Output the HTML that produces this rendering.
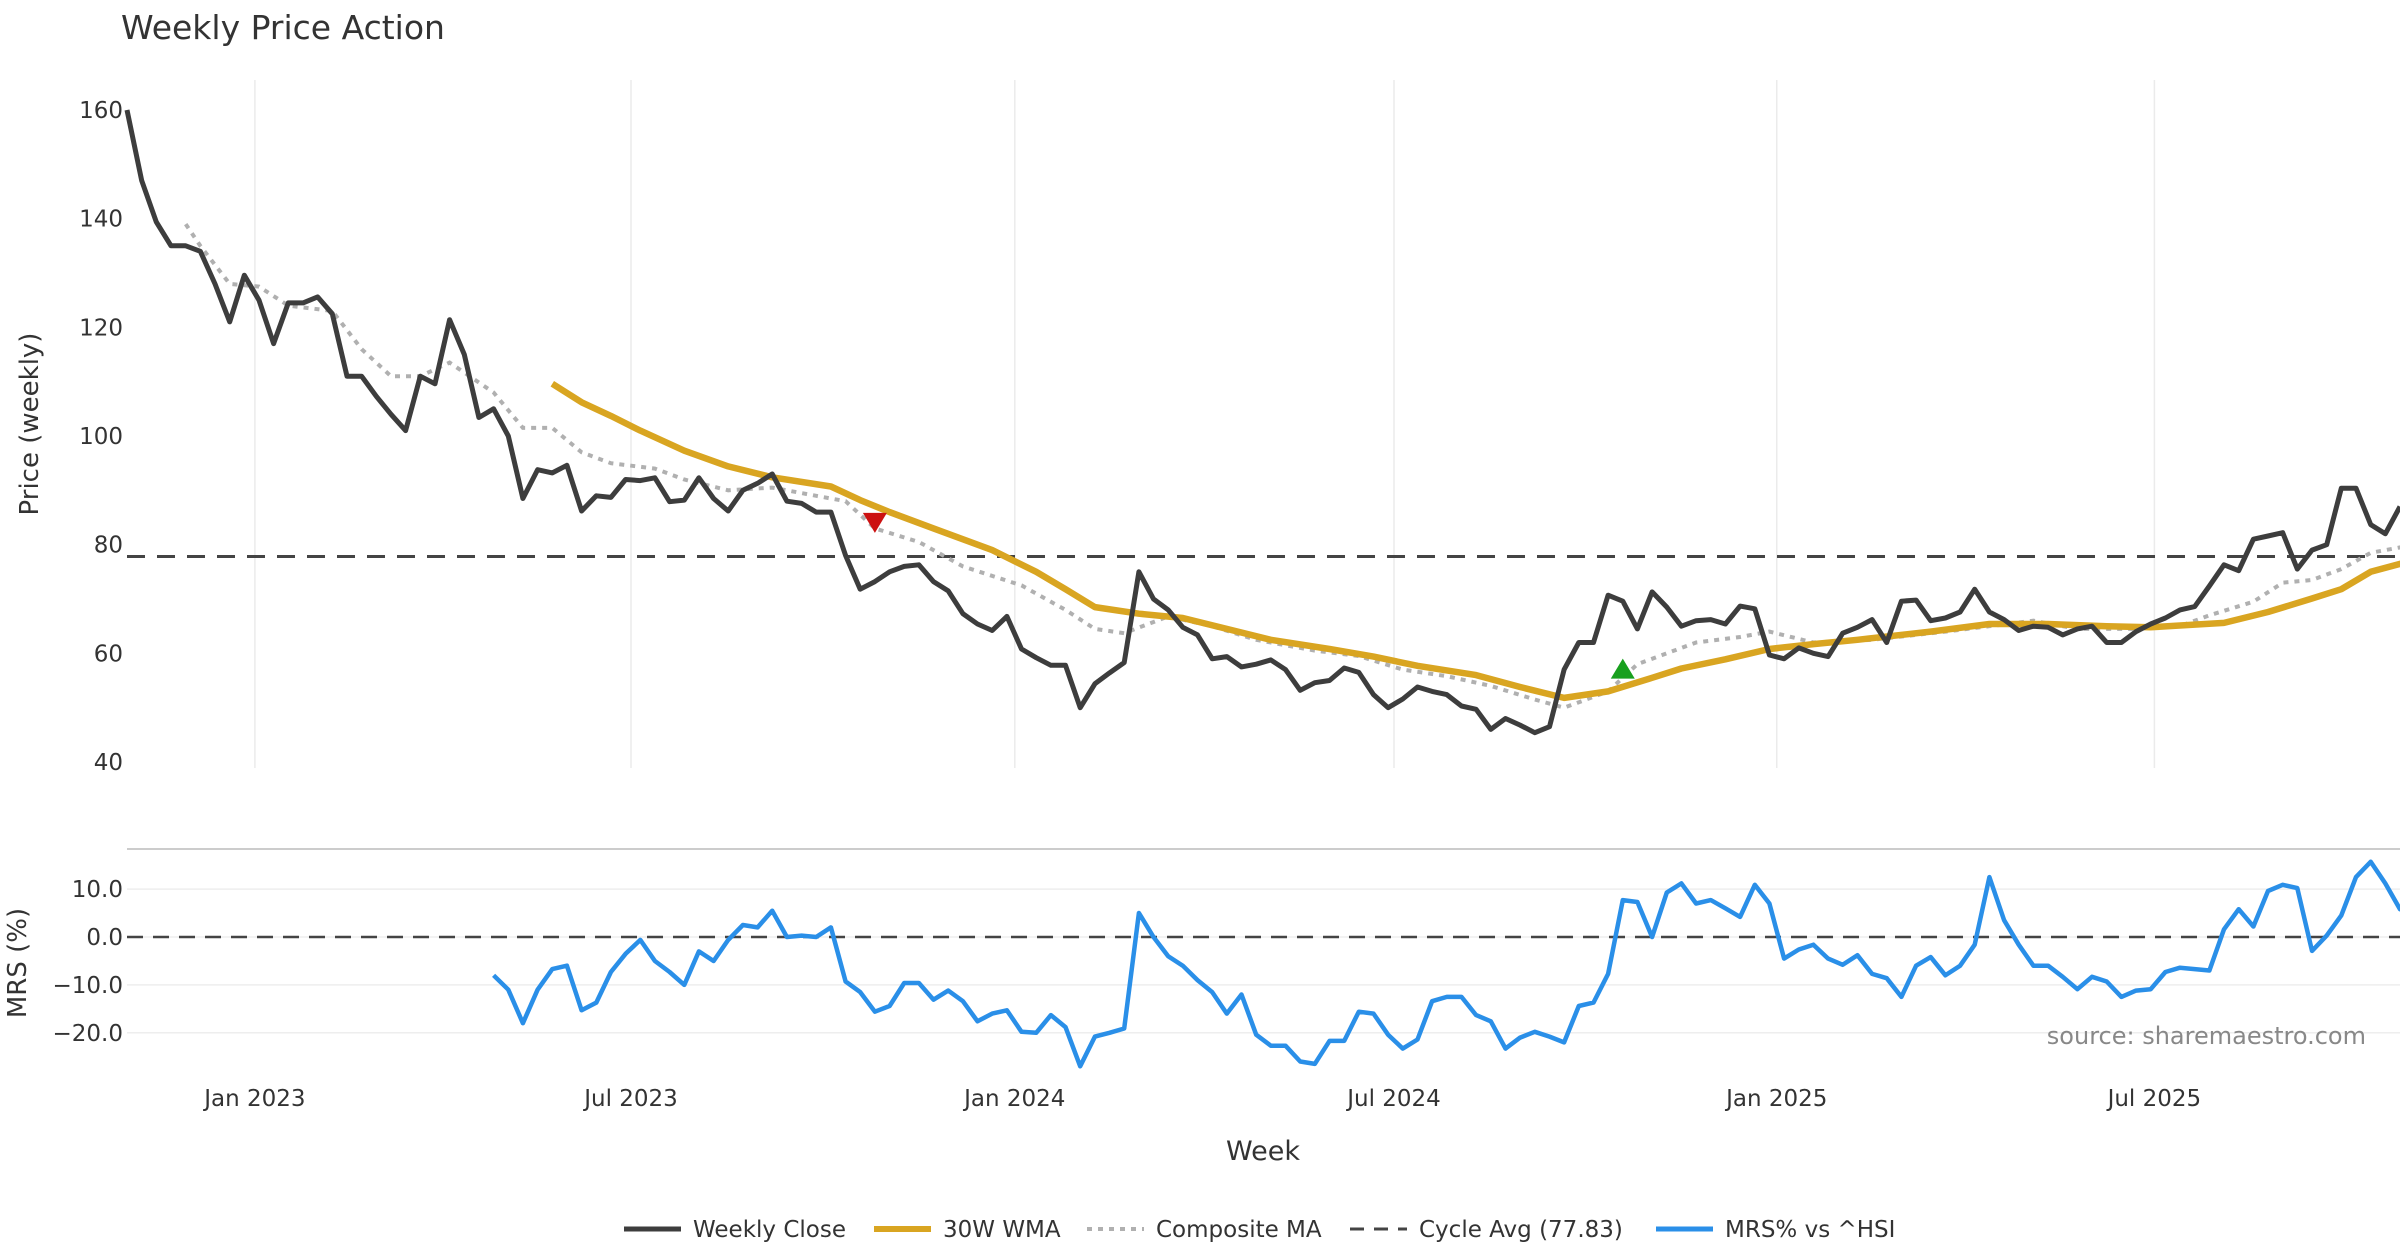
<!DOCTYPE html>
<html><head><meta charset="utf-8">
<style>
html,body{margin:0;padding:0;background:#fff;}
svg{display:block;font-family:"DejaVu Sans","Liberation Sans",sans-serif;}
</style></head>
<body>
<svg id="chart" width="2400" height="1260" viewBox="0 0 2400 1260" xmlns="http://www.w3.org/2000/svg">
<text x="121" y="39" font-size="33" fill="#333">Weekly Price Action</text>
<text transform="translate(38,424) rotate(-90)" text-anchor="middle" font-size="26" fill="#333">Price (weekly)</text>
<text transform="translate(26,963) rotate(-90)" text-anchor="middle" font-size="26" fill="#333">MRS (%)</text>
<text x="1263" y="1160" text-anchor="middle" font-size="27" fill="#333">Week</text>
<line x1="127" x2="2400" y1="849" y2="849" stroke="#ccc" stroke-width="2"/>
<g id="grid"></g><g id="series"></g><g id="axes"></g>
<text x="2366" y="1044" text-anchor="end" font-size="24" fill="#888">source: sharemaestro.com</text>
<g id="legend"></g>
</svg>
<script>
const closeVals=[160,147,139.4,135,135,134,128,121,129.6,125,117,124.5,124.5,125.6,122.5,111,111,107.3,104,101,111,109.6,121.4,115,103.4,105,100,88.5,93.8,93.2,94.6,86.2,89,88.7,92,91.8,92.3,87.9,88.2,92.3,88.5,86.2,90,91.3,93,88,87.6,86,86,78,71.8,73.2,75,76,76.3,73.2,71.5,67.3,65.4,64.2,66.8,60.8,59.2,57.8,57.8,50,54.4,56.4,58.3,75,70,68,64.8,63.4,59,59.4,57.5,58,58.8,57,53.2,54.6,55,57.3,56.5,52.4,50,51.6,53.8,53,52.4,50.3,49.7,46,48,46.8,45.4,46.5,57,62,62,70.7,69.6,64.5,71.3,68.5,65,66,66.2,65.4,68.7,68.2,59.7,59,61,60,59.4,63.7,64.8,66.2,62,69.6,69.8,66,66.5,67.6,71.8,67.6,66.2,64.2,65,64.8,63.4,64.5,65,62,62,64,65.4,66.5,68,68.6,72.4,76.3,75.2,81,81.6,82.2,75.5,79,80,90.4,90.4,83.7,82,87];
const wmaWeeks=[29,31,33,35,38,41,44,48,50,52,55,59,62,64,66,69,72,75,78,82,85,88,92,95,98,101,104,106,109,112,115,118,123,127,131,135,138,143,146,149,151,153,156];
const wmaVals=[109.6,106.2,103.7,101,97.3,94.4,92.4,90.7,88.2,86,83,79,75,71.8,68.5,67.3,66.5,64.5,62.5,60.8,59.4,57.7,56,53.8,51.8,53,55.5,57.2,58.9,60.8,61.7,62.5,64,65.4,65.4,65,64.8,65.6,67.6,70.1,71.8,75,77.2];
const compWeeks=[4,5,7,9,11,14,16,18,20,22,25,27,29,31,33,36,38,41,44,47,49,51,54,57,61,64,66,68,71,74,77,81,84,87,90,93,96,98,101,103,105,107,110,112,115,119,124,127,130,133,137,140,142,145,147,149,151,153,156];
const compVals=[139,135,128,127.5,124,123,116,111,111,113.5,108,101.5,101.5,97,95,94,92,90,90.5,89,88,83,80.5,76,72.5,68,64.5,63.7,66.8,65,62.5,60.5,59.5,57,55.8,54,51.5,50,53,58,60,62,63,64,62,62.5,64,65,66,64.5,64.5,65,67,69.5,73,73.5,75.5,78.5,80];
const mrsStart=25;
const mrsVals=[-8,-11,-18,-11,-6.7,-6,-15.3,-13.7,-7.3,-3.5,-0.6,-5,-7.3,-10,-3,-5,-0.6,2.5,2,5.5,0,0.3,0,2,-9.3,-11.5,-15.6,-14.4,-9.6,-9.6,-13.1,-11.2,-13.4,-17.6,-16,-15.3,-19.8,-20,-16.3,-18.8,-27,-20.8,-20,-19.1,5,0,-4,-6,-9,-11.5,-16,-12,-20.4,-22.7,-22.7,-26,-26.5,-21.7,-21.7,-15.6,-16,-20.4,-23.3,-21.4,-13.4,-12.5,-12.5,-16.3,-17.6,-23.3,-21,-19.8,-20.8,-22,-14.4,-13.7,-7.7,7.7,7.3,0,9.3,11.2,7,7.7,6,4.2,10.9,7,-4.5,-2.6,-1.6,-4.5,-5.8,-3.8,-7.7,-8.6,-12.5,-6,-4.2,-8,-6,-1.6,12.5,3.5,-1.6,-6,-6,-8.3,-10.9,-8.3,-9.3,-12.5,-11.2,-10.9,-7.3,-6.4,-6.7,-7,1.6,5.8,2.2,9.6,10.9,10.2,-2.9,0.3,4.5,12.5,15.7,11.2,5.8,10.2];
const cycleAvg=77.83;
const sellSignal=[51,84.2];
const buySignal=[102,57];
const priceTicks=[40,60,80,100,120,140,160];
const mrsTicks=[10,0,-10,-20];
const dateTickWeeks=[8.72,34.37,60.54,86.4,112.5,138.25];
const dateTickLabels=["Jan 2023","Jul 2023","Jan 2024","Jul 2024","Jan 2025","Jul 2025"];

const NS="http://www.w3.org/2000/svg";
const X0=127,X1=2400,N=closeVals.length;
const xS=w=>X0+w*(X1-X0)/(N-1);
const yP=v=>110+(160-v)*(762-110)/120;
const yM=v=>937-v*4.79;
function mk(tag,attrs,parent){const e=document.createElementNS(NS,tag);for(const k in attrs)e.setAttribute(k,attrs[k]);document.getElementById(parent).appendChild(e);return e;}
function pts(ws,vs,yf){return ws.map((w,i)=>xS(w).toFixed(1)+","+yf(vs[i]).toFixed(1)).join(" ");}

dateTickWeeks.forEach((w,i)=>{
  const g=mk('line',{x1:xS(w),x2:xS(w),y1:80,y2:768,stroke:'#ebebeb','stroke-width':1.5},'grid');
  
  
  const t=mk('text',{x:xS(w),y:1106,'text-anchor':'middle','font-size':23,fill:'#333'},'axes');
  t.textContent=dateTickLabels[i];
  
  
});
priceTicks.forEach(v=>{
  const t=mk('text',{x:123,y:yP(v)+8,'text-anchor':'end','font-size':23,fill:'#333'},'axes');
  t.textContent=v;
  
  
});
mrsTicks.forEach(v=>{
  const g=mk('line',{x1:X0,x2:X1,y1:yM(v),y2:yM(v),stroke:'#eeeeee','stroke-width':1.5},'grid');
  
  
  const t=mk('text',{x:123,y:yM(v)+8,'text-anchor':'end','font-size':23,fill:'#333'},'axes');
  t.textContent=(v<0?"\u2212"+(-v).toFixed(1):v.toFixed(1));
  
  
});

let e;
e=mk('line',{x1:X0,x2:X1,y1:yP(cycleAvg),y2:yP(cycleAvg),stroke:'#444','stroke-width':3,'stroke-dasharray':'18,12'},'series');


e=mk('line',{x1:X0,x2:X1,y1:yM(0),y2:yM(0),stroke:'#444','stroke-width':2.5,'stroke-dasharray':'16,10'},'series');


e=mk('polyline',{points:pts(compWeeks,compVals,yP),fill:'none',stroke:'#b0b0b0','stroke-width':4,'stroke-dasharray':'5,6'},'series');


e=mk('polyline',{points:pts(wmaWeeks,wmaVals,yP),fill:'none',stroke:'#d9a521','stroke-width':6.5,'stroke-linejoin':'round'},'series');


e=mk('polyline',{points:pts(closeVals.map((v,i)=>i),closeVals,yP),fill:'none',stroke:'#3d3d3d','stroke-width':5,'stroke-linejoin':'round'},'series');


e=mk('polyline',{points:pts(mrsVals.map((v,i)=>i+mrsStart),mrsVals,yM),fill:'none',stroke:'#2a8fe8','stroke-width':4.5,'stroke-linejoin':'round'},'series');


{const cx=xS(sellSignal[0]),cy=yP(sellSignal[1]);
e=mk('polygon',{points:`${cx-12},${cy-9} ${cx+12},${cy-9} ${cx},${cy+11}`,fill:'#cc1111'},'series');

}
{const cx=xS(buySignal[0]),cy=yP(buySignal[1]);
e=mk('polygon',{points:`${cx-12},${cy+9} ${cx+12},${cy+9} ${cx},${cy-11}`,fill:'#18a01e'},'series');

}

const legendItems=[["Weekly Close","#3d3d3d",5,""],["30W WMA","#d9a521",6,""],["Composite MA","#b0b0b0",4,"5,6"],["Cycle Avg (77.83)","#444",3,"14,10"],["MRS% vs ^HSI","#2a8fe8",5,""]];
const legendX=[624,874,1087,1350,1656];
legendItems.forEach((it,i)=>{
  const x=legendX[i];
  const l=mk('line',{x1:x,x2:x+57,y1:1229,y2:1229,stroke:it[1],'stroke-width':it[2],'stroke-dasharray':it[3]},'legend');
  
  
  const t=mk('text',{x:x+69,y:1237,'font-size':23,fill:'#333'},'legend');
  t.textContent=it[0];
  
  
});
</script>
</body></html>
